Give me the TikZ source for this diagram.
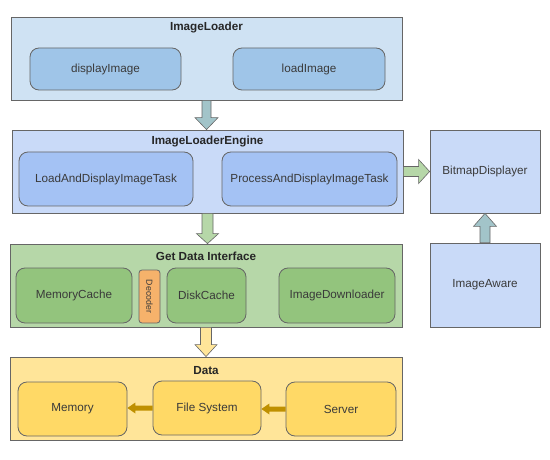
\documentclass[tikz,border=0pt]{standalone}
\usepackage{fontspec}
\setmainfont{Liberation Sans}
\usetikzlibrary{calc}
\definecolor{bordergray}{HTML}{666666}
\definecolor{txt}{HTML}{3A3A3A}
\definecolor{ilout}{HTML}{CFE2F3}
\definecolor{ilin}{HTML}{9FC5E8}
\definecolor{engout}{HTML}{C9DAF8}
\definecolor{engin}{HTML}{A4C2F4}
\definecolor{gdout}{HTML}{B6D7A8}
\definecolor{gdin}{HTML}{93C47D}
\definecolor{decfill}{HTML}{F6B26B}
\definecolor{dataout}{HTML}{FFE599}
\definecolor{datain}{HTML}{FFD966}
\definecolor{tealarr}{HTML}{A2C4C9}
\definecolor{greenarr}{HTML}{B6D7A8}
\definecolor{goldarr}{HTML}{BF9000}
\newcommand{\blockarrow}[6]{%
  \coordinate (ba-h) at ($(#3)!#6!(#2)$);
  \draw[#1] ($(#2)!#4!90:(#3)$) -- ($(ba-h)!#4!90:(#3)$) -- ($(ba-h)!#5!90:(#3)$) -- (#3) -- ($(ba-h)!#5!-90:(#3)$) -- ($(ba-h)!#4!-90:(#3)$) -- ($(#2)!#4!-90:(#3)$) -- cycle;}
\tikzset{
  every node/.style={font=\fontsize{11.7}{13}\selectfont, text=txt},
  outerbox/.style={draw=bordergray, line width=0.8pt, inner sep=0pt},
  innerbox/.style={draw=bordergray, line width=0.8pt, rounded corners=9pt, inner sep=0pt, align=center},
  titletext/.style={font=\fontsize{11.7}{13}\selectfont\bfseries, text=black!85},
  arrline/.style={draw=bordergray, line width=0.6pt}
}
\begin{document}
\begin{tikzpicture}[x=1pt,y=-1pt]
\useasboundingbox[fill=white] (0,0) rectangle (550,460);
% ImageLoader
\node[outerbox, fill=ilout, minimum width=391pt, minimum height=83pt] (il) at (206.5,58.5) {};
\node[titletext] (ilt) at (206.5,28) {ImageLoader};
\node[innerbox, fill=ilin, minimum width=151pt, minimum height=42pt] (di) at (105.5,69) {displayImage};
\node[innerbox, fill=ilin, minimum width=152pt, minimum height=42pt] (li) at (309,69) {loadImage};
% ImageLoaderEngine
\node[outerbox, fill=engout, minimum width=391pt, minimum height=83pt] (ile) at (207.5,171.5) {};
\node[titletext] (ilet) at (207.5,142) {ImageLoaderEngine};
\node[innerbox, fill=engin, minimum width=174pt, minimum height=54pt] (ladt) at (106,179) {LoadAndDisplayImageTask};
\node[innerbox, fill=engin, minimum width=175pt, minimum height=54pt] (padt) at (309.5,179) {ProcessAndDisplayImageTask};
% Get Data Interface
\node[outerbox, fill=gdout, minimum width=392pt, minimum height=83pt] (gdi) at (206,285.5) {};
\node[titletext] (gdit) at (206,256) {Get Data Interface};
\node[innerbox, fill=gdin, minimum width=116pt, minimum height=55pt] (mc) at (74,295.5) {MemoryCache};
\node[innerbox, fill=decfill, rounded corners=3pt, minimum width=21pt, minimum height=53pt] (dec) at (149.5,296.5) {};
\node[rotate=-90, font=\fontsize{8.8}{9}\selectfont, text=txt] (dect) at (dec.center) {Decoder};
\node[innerbox, fill=gdin, minimum width=79pt, minimum height=55pt] (dc) at (206.5,295.5) {DiskCache};
\node[innerbox, fill=gdin, minimum width=116pt, minimum height=55pt] (idl) at (337,295.5) {ImageDownloader};
% Data
\node[outerbox, fill=dataout, minimum width=392pt, minimum height=83pt] (data) at (206,398.5) {};
\node[titletext] (datat) at (206,371) {Data};
\node[innerbox, fill=datain, minimum width=109pt, minimum height=54pt] (mem) at (72.5,409) {Memory};
\node[innerbox, fill=datain, minimum width=108pt, minimum height=54pt] (fs) at (207,408) {File System};
\node[innerbox, fill=datain, minimum width=110pt, minimum height=54pt] (srv) at (341,409) {Server};
% Right column
\node[outerbox, fill=engout, minimum width=110pt, minimum height=83pt] (bd) at (485,171.5) {BitmapDisplayer};
\node[outerbox, fill=engout, minimum width=110pt, minimum height=84pt] (ia) at (485,285) {ImageAware};
% Block arrows
\blockarrow{arrline, fill=tealarr}{il.south}{il.south |- ile.north}{4.5pt}{11.5pt}{12pt}
\blockarrow{arrline, fill=greenarr}{ile.south}{ile.south |- gdi.north}{5.5pt}{11pt}{10pt}
\blockarrow{arrline, fill=dataout}{gdi.south}{gdi.south |- data.north}{5.5pt}{11pt}{12pt}
\blockarrow{arrline, fill=greenarr}{ile.east}{ile.east -| bd.west}{5pt}{12pt}{11pt}
\blockarrow{arrline, fill=tealarr}{ia.north}{bd.south}{5pt}{11.5pt}{13pt}
\blockarrow{draw=none, fill=goldarr}{fs.west}{fs.west -| mem.east}{2.5pt}{5.5pt}{8pt}
\blockarrow{draw=none, fill=goldarr}{srv.west}{srv.west -| fs.east}{2.5pt}{5.5pt}{8pt}
\end{tikzpicture}
\end{document}
